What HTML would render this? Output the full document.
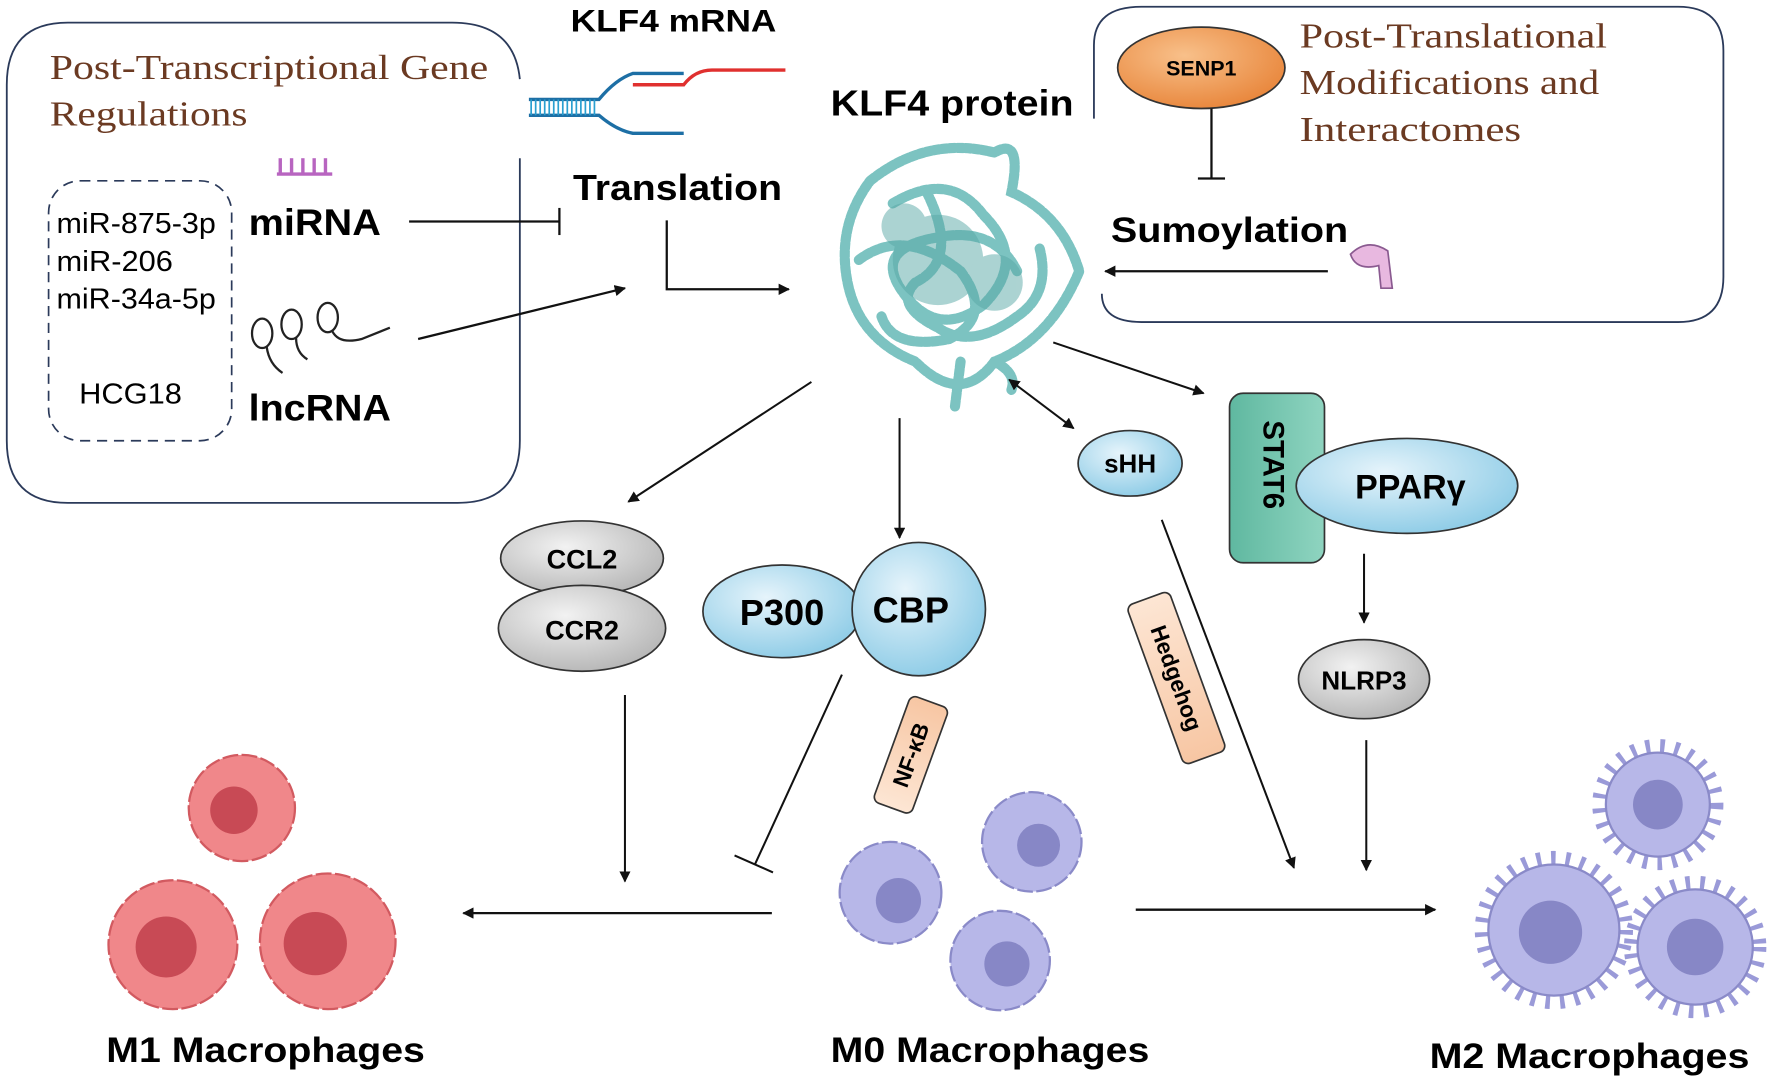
<!DOCTYPE html>
<html><head><meta charset="utf-8"><style>
html,body{margin:0;padding:0;background:#fff}
svg{display:block}
text{font-family:"Liberation Sans",Arial,sans-serif}
.b{font-weight:bold}
.ser{font-family:"Liberation Serif",serif;fill:#6b3a22}
</style></head><body>
<svg width="1772" height="1081" viewBox="0 0 1568 956.6" preserveAspectRatio="none" xmlns="http://www.w3.org/2000/svg">
<defs>
<marker id="a" markerWidth="10" markerHeight="10" refX="9" refY="5" orient="auto" markerUnits="userSpaceOnUse"><path d="M0,0 L10,5 L0,10 z" fill="#111"/></marker>
<marker id="a2" markerWidth="10" markerHeight="10" refX="1" refY="5" orient="auto" markerUnits="userSpaceOnUse"><path d="M10,0 L0,5 L10,10 z" fill="#111"/></marker>
<radialGradient id="blu" cx="40%" cy="35%" r="70%"><stop offset="0" stop-color="#e6f4fb"/><stop offset="1" stop-color="#8ccbe6"/></radialGradient>
<radialGradient id="gry" cx="40%" cy="35%" r="70%"><stop offset="0" stop-color="#f2f2f2"/><stop offset="1" stop-color="#b5b5b5"/></radialGradient>
<radialGradient id="org" cx="40%" cy="35%" r="70%"><stop offset="0" stop-color="#f8c08a"/><stop offset="1" stop-color="#e8853a"/></radialGradient>
<linearGradient id="grn" x1="0" x2="1"><stop offset="0" stop-color="#5fb8a0"/><stop offset="1" stop-color="#8fd4c0"/></linearGradient>
<linearGradient id="pch" x1="0" x2="1"><stop offset="0" stop-color="#fde6d4"/><stop offset="1" stop-color="#f7c6a3"/></linearGradient>
</defs>

<!-- left box -->
<path d="M460,140 L460,390 Q460,445 405,445 L60,445 Q6,445 6,390 L6,75 Q6,20 60,20 L400,20 Q455,20 460,70" fill="none" stroke="#2b3a5a" stroke-width="1.6"/>
<text x="44" y="70" class="ser" font-size="31" textLength="388" lengthAdjust="spacingAndGlyphs">Post-Transcriptional Gene</text>
<text x="44" y="111" class="ser" font-size="31" textLength="175" lengthAdjust="spacingAndGlyphs">Regulations</text>
<rect x="43" y="160" width="162" height="230" rx="28" fill="none" stroke="#2b3a5a" stroke-width="1.5" stroke-dasharray="9,6"/>
<text x="50" y="206" font-size="25" textLength="141" lengthAdjust="spacingAndGlyphs">miR-875-3p</text>
<text x="50" y="240" font-size="25" textLength="103" lengthAdjust="spacingAndGlyphs">miR-206</text>
<text x="50" y="273" font-size="25" textLength="141" lengthAdjust="spacingAndGlyphs">miR-34a-5p</text>
<text x="70" y="357" font-size="25" textLength="91" lengthAdjust="spacingAndGlyphs">HCG18</text>
<text x="220" y="208" font-size="33" class="b" textLength="117" lengthAdjust="spacingAndGlyphs">miRNA</text>
<text x="220" y="372" font-size="33" class="b" textLength="126" lengthAdjust="spacingAndGlyphs">lncRNA</text>
<g stroke="#b865c0" stroke-width="3"><line x1="245" y1="154" x2="294" y2="154"/><line x1="248" y1="140" x2="248" y2="154"/><line x1="258" y1="140" x2="258" y2="154"/><line x1="268" y1="140" x2="268" y2="154"/><line x1="278" y1="140" x2="278" y2="154"/><line x1="288" y1="140" x2="288" y2="154"/></g>
<g fill="none" stroke="#222" stroke-width="2"><ellipse cx="232" cy="295" rx="9" ry="13"/><ellipse cx="258" cy="287" rx="9" ry="13"/><ellipse cx="290" cy="281" rx="9" ry="13"/><path d="M236,307 Q238,322 250,330 M262,299 Q262,312 272,318 M294,293 Q300,305 320,300 L345,290"/></g>
<line x1="362" y1="196" x2="495" y2="196" stroke="#111" stroke-width="2"/><line x1="495" y1="184" x2="495" y2="208" stroke="#111" stroke-width="2"/>
<line x1="370" y1="300" x2="553" y2="255" stroke="#111" stroke-width="2" marker-end="url(#a)"/>

<!-- mRNA -->
<text x="505" y="28" font-size="28" class="b" textLength="182" lengthAdjust="spacingAndGlyphs">KLF4 mRNA</text>
<g fill="none" stroke-width="3"><path d="M468,88 L530,88 Q545,70 560,65 L605,65" stroke="#1d6fa5"/><path d="M468,102 L530,102 Q545,115 560,118 L605,118" stroke="#1d6fa5"/><path d="M560,75 L605,75 Q615,62 630,62 L695,62" stroke="#e0302f"/></g>
<g stroke="#2a9fd0" stroke-width="1.5"><path d="M470,88 V102 M474,88 V102 M478,88 V102 M482,88 V102 M486,88 V102 M490,88 V102 M494,88 V102 M498,88 V102 M502,88 V102 M506,88 V102 M510,88 V102 M514,88 V102 M518,88 V102 M522,88 V102 M526,88 V102"/></g>
<text x="507" y="177" font-size="32" class="b" textLength="185" lengthAdjust="spacingAndGlyphs">Translation</text>
<polyline points="590,195 590,256 698,256" fill="none" stroke="#111" stroke-width="2" marker-end="url(#a)"/>

<!-- protein -->
<text x="735" y="102" font-size="32" class="b" textLength="215" lengthAdjust="spacingAndGlyphs">KLF4 protein</text>
<g fill="none" stroke="#7cc3c1" stroke-width="9" stroke-dasharray="5,2" stroke-linecap="round">
<path d="M770,160 Q820,120 880,135 Q905,120 895,170 Q940,190 955,240 Q930,300 880,320 Q850,360 810,320 Q760,300 750,250 Q740,200 770,160"/>
<path d="M790,180 Q840,150 870,190 Q910,230 870,270 Q830,300 800,260 Q770,220 830,210 Q880,200 900,240"/>
<path d="M760,230 Q800,200 850,240 Q880,280 840,300 Q790,310 780,280"/>
<path d="M820,170 Q850,230 810,250 Q790,270 830,290 Q860,310 900,280 Q930,260 920,220"/>
<path d="M850,320 L845,360 M880,320 Q900,330 895,345"/>
</g>
<g fill="#5aa8a6" opacity="0.5"><circle cx="830" cy="230" r="40"/><circle cx="880" cy="250" r="25"/><circle cx="800" cy="200" r="20"/></g>

<!-- right box -->
<path d="M968,105 L968,40 Q968,6 1010,6 L1485,6 Q1525,6 1525,45 L1525,245 Q1525,285 1485,285 L1010,285 Q975,285 975,260" fill="none" stroke="#2b3a5a" stroke-width="1.6"/>
<ellipse cx="1063" cy="60" rx="74" ry="36" fill="url(#org)" stroke="#333" stroke-width="1.5"/>
<text x="1063" y="67" font-size="19" class="b" text-anchor="middle">SENP1</text>
<text x="1150" y="42" class="ser" font-size="31" textLength="272" lengthAdjust="spacingAndGlyphs">Post-Translational</text>
<text x="1150" y="83" class="ser" font-size="31" textLength="265" lengthAdjust="spacingAndGlyphs">Modifications and</text>
<text x="1150" y="125" class="ser" font-size="31" textLength="196" lengthAdjust="spacingAndGlyphs">Interactomes</text>
<line x1="1072" y1="96" x2="1072" y2="158" stroke="#111" stroke-width="2"/><line x1="1060" y1="158" x2="1084" y2="158" stroke="#111" stroke-width="2"/>
<text x="983" y="214" font-size="31" class="b" textLength="210" lengthAdjust="spacingAndGlyphs">Sumoylation</text>
<line x1="1175" y1="240" x2="978" y2="240" stroke="#111" stroke-width="2" marker-end="url(#a)"/>
<path d="M1195,225 Q1210,210 1228,222 L1232,255 L1222,255 L1220,235 Q1200,240 1195,225Z" fill="#e8b8e0" stroke="#8a5a90" stroke-width="1.5"/>

<!-- arrows from protein -->
<line x1="718" y1="338" x2="556" y2="444" stroke="#111" stroke-width="1.8" marker-end="url(#a)"/>
<line x1="796" y1="370" x2="796" y2="476" stroke="#111" stroke-width="1.8" marker-end="url(#a)"/>
<line x1="893" y1="336" x2="950" y2="379" stroke="#111" stroke-width="1.8" marker-end="url(#a)" marker-start="url(#a2)"/>
<line x1="932" y1="303" x2="1065" y2="348" stroke="#111" stroke-width="1.8" marker-end="url(#a)"/>

<!-- CCL2/CCR2 -->
<ellipse cx="515" cy="494" rx="72" ry="33" fill="url(#gry)" stroke="#333" stroke-width="1.5"/>
<ellipse cx="515" cy="556" rx="74" ry="38" fill="url(#gry)" stroke="#333" stroke-width="1.5"/>
<text x="515" y="503" font-size="24" class="b" text-anchor="middle">CCL2</text>
<text x="515" y="566" font-size="24" class="b" text-anchor="middle">CCR2</text>
<line x1="553" y1="615" x2="553" y2="780" stroke="#111" stroke-width="1.8" marker-end="url(#a)"/>

<!-- P300 CBP -->
<ellipse cx="692" cy="541" rx="70" ry="41" fill="url(#blu)" stroke="#333" stroke-width="1.5"/>
<circle cx="813" cy="539" r="59" fill="url(#blu)" stroke="#333" stroke-width="1.5"/>
<text x="692" y="553" font-size="32" class="b" text-anchor="middle">P300</text>
<text x="806" y="551" font-size="32" class="b" text-anchor="middle">CBP</text>
<line x1="745" y1="597" x2="668" y2="765" stroke="#111" stroke-width="1.8"/><line x1="650" y1="757" x2="684" y2="772" stroke="#111" stroke-width="1.8"/>
<g transform="translate(806,668) rotate(-70)"><rect x="-50" y="-18" width="100" height="36" rx="6" fill="url(#pch)" stroke="#333" stroke-width="1.5"/><text x="0" y="7" font-size="20" class="b" text-anchor="middle">NF-κB</text></g>

<!-- sHH / Hedgehog -->
<ellipse cx="1000" cy="410" rx="46" ry="29" fill="url(#blu)" stroke="#333" stroke-width="1.5"/>
<text x="1000" y="418" font-size="23" class="b" text-anchor="middle">sHH</text>
<line x1="1028" y1="460" x2="1145" y2="768" stroke="#111" stroke-width="1.8" marker-end="url(#a)"/>
<g transform="translate(1041,600) rotate(70)"><rect x="-75" y="-20" width="150" height="40" rx="6" fill="url(#pch)" stroke="#333" stroke-width="1.5"/><text x="0" y="7" font-size="20" class="b" text-anchor="middle">Hedgehog</text></g>

<!-- STAT6 PPAR -->
<rect x="1088" y="348" width="84" height="150" rx="12" fill="url(#grn)" stroke="#333" stroke-width="1.5"/>
<text transform="translate(1118,372) rotate(90)" font-size="26" class="b">STAT6</text>
<ellipse cx="1245" cy="430" rx="98" ry="42" fill="url(#blu)" stroke="#333" stroke-width="1.5"/>
<text x="1248" y="441" font-size="30" class="b" text-anchor="middle">PPARγ</text>
<line x1="1207" y1="490" x2="1207" y2="551" stroke="#111" stroke-width="1.8" marker-end="url(#a)"/>
<ellipse cx="1207" cy="601" rx="58" ry="35" fill="url(#gry)" stroke="#333" stroke-width="1.5"/>
<text x="1207" y="610" font-size="23" class="b" text-anchor="middle">NLRP3</text>
<line x1="1209" y1="655" x2="1209" y2="770" stroke="#111" stroke-width="1.8" marker-end="url(#a)"/>

<!-- main arrows -->
<line x1="683" y1="808" x2="410" y2="808" stroke="#111" stroke-width="2" marker-end="url(#a)"/>
<line x1="1005" y1="805" x2="1270" y2="805" stroke="#111" stroke-width="2" marker-end="url(#a)"/>

<!-- M1 cells -->
<g fill="#f0878a" stroke="#d25a60" stroke-width="2" stroke-dasharray="14,3">
<circle cx="214" cy="715" r="47"/><circle cx="153" cy="836" r="57"/><circle cx="290" cy="833" r="60"/></g>
<g fill="#c84a55"><circle cx="207" cy="717" r="21"/><circle cx="147" cy="838" r="27"/><circle cx="279" cy="835" r="28"/></g>
<!-- M0 cells -->
<g fill="#b7b7e8" stroke="#8a8ac8" stroke-width="2" stroke-dasharray="14,3">
<circle cx="913" cy="745" r="44"/><circle cx="788" cy="790" r="45"/><circle cx="885" cy="850" r="44"/></g>
<g fill="#8787c6"><circle cx="919" cy="748" r="19"/><circle cx="795" cy="797" r="20"/><circle cx="891" cy="853" r="20"/></g>
<!-- M2 cells -->
<g fill="none" stroke="#9a9ad8" stroke-width="12" stroke-dasharray="4,9">
<circle cx="1467" cy="712" r="52"/><circle cx="1375" cy="823" r="64"/><circle cx="1500" cy="838" r="57"/></g>
<g fill="#b7b7e8" stroke="#8a8ac8" stroke-width="2"><circle cx="1467" cy="712" r="46"/><circle cx="1375" cy="823" r="58"/><circle cx="1500" cy="838" r="51"/></g>
<g fill="#8787c6"><circle cx="1467" cy="712" r="22"/><circle cx="1372" cy="825" r="28"/><circle cx="1500" cy="838" r="25"/></g>

<text x="94" y="940" font-size="31" class="b" textLength="282" lengthAdjust="spacingAndGlyphs">M1 Macrophages</text>
<text x="735" y="940" font-size="31" class="b" textLength="282" lengthAdjust="spacingAndGlyphs">M0 Macrophages</text>
<text x="1265" y="945" font-size="31" class="b" textLength="283" lengthAdjust="spacingAndGlyphs">M2 Macrophages</text>
</svg>
</body></html>
